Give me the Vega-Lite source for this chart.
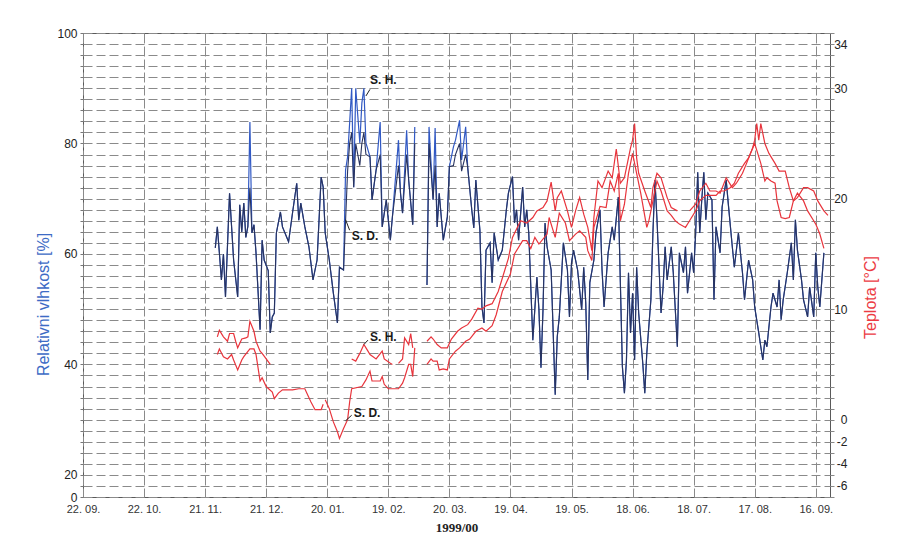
{
  "$schema": "https://vega.github.io/schema/vega-lite/v6.json",
  "width": 747,
  "height": 464,
  "autosize": {"type": "none"},
  "padding": {"left": 83, "top": 33, "right": 94, "bottom": 48},
  "background": "white",
  "config": {"view": {"stroke": "#5a5a5a", "strokeWidth": 1}, "font": "Liberation Sans"},
  "datasets": {
    "hum": [
      {"d":"1999-11-26","s":1,"hh":61.1,"hd":61.1},
      {"d":"1999-11-27","s":1,"hh":64.9,"hd":64.9},
      {"d":"1999-11-28","s":1,"hh":60.2,"hd":60.2},
      {"d":"1999-11-29","s":1,"hh":55.3,"hd":55.3},
      {"d":"1999-11-30","s":1,"hh":60.0,"hd":60.0},
      {"d":"1999-12-01","s":1,"hh":52.2,"hd":52.2},
      {"d":"1999-12-03","s":1,"hh":71.0,"hd":71.0},
      {"d":"1999-12-05","s":1,"hh":58.9,"hd":58.9},
      {"d":"1999-12-07","s":1,"hh":52.2,"hd":52.2},
      {"d":"1999-12-08","s":1,"hh":68.9,"hd":68.9},
      {"d":"1999-12-09","s":1,"hh":64.0,"hd":64.0},
      {"d":"1999-12-10","s":1,"hh":69.2,"hd":69.2},
      {"d":"1999-12-11","s":1,"hh":63.0,"hd":63.0},
      {"d":"1999-12-12","s":1,"hh":65.0,"hd":65.0},
      {"d":"1999-12-13","s":1,"hh":83.9,"hd":72.0},
      {"d":"1999-12-14","s":1,"hh":63.8,"hd":63.8},
      {"d":"1999-12-15","s":1,"hh":65.3,"hd":65.3},
      {"d":"1999-12-16","s":1,"hh":60.2,"hd":60.2},
      {"d":"1999-12-18","s":1,"hh":46.3,"hd":46.3},
      {"d":"1999-12-19","s":1,"hh":62.5,"hd":62.5},
      {"d":"1999-12-20","s":1,"hh":58.9,"hd":58.9},
      {"d":"1999-12-22","s":1,"hh":57.0,"hd":57.0},
      {"d":"1999-12-23","s":1,"hh":45.7,"hd":45.7},
      {"d":"1999-12-24","s":1,"hh":48.6,"hd":48.6},
      {"d":"1999-12-25","s":1,"hh":49.3,"hd":49.3},
      {"d":"1999-12-26","s":1,"hh":63.8,"hd":63.8},
      {"d":"1999-12-28","s":1,"hh":67.6,"hd":67.6},
      {"d":"1999-12-29","s":1,"hh":64.9,"hd":64.9},
      {"d":"2000-01-01","s":1,"hh":62.2,"hd":62.2},
      {"d":"2000-01-03","s":1,"hh":67.6,"hd":67.6},
      {"d":"2000-01-05","s":1,"hh":72.8,"hd":72.8},
      {"d":"2000-01-06","s":1,"hh":66.1,"hd":66.1},
      {"d":"2000-01-07","s":1,"hh":69.2,"hd":69.2},
      {"d":"2000-01-09","s":1,"hh":64.9,"hd":64.9},
      {"d":"2000-01-11","s":1,"hh":61.3,"hd":61.3},
      {"d":"2000-01-13","s":1,"hh":55.3,"hd":55.3},
      {"d":"2000-01-15","s":1,"hh":58.9,"hd":58.9},
      {"d":"2000-01-17","s":1,"hh":73.9,"hd":73.9},
      {"d":"2000-01-18","s":1,"hh":72.1,"hd":72.1},
      {"d":"2000-01-19","s":1,"hh":63.8,"hd":63.8},
      {"d":"2000-01-21","s":1,"hh":58.9,"hd":58.9},
      {"d":"2000-01-23","s":1,"hh":52.9,"hd":52.9},
      {"d":"2000-01-25","s":1,"hh":47.5,"hd":47.5},
      {"d":"2000-01-26","s":1,"hh":57.6,"hd":57.6},
      {"d":"2000-01-28","s":1,"hh":57.1,"hd":57.1},
      {"d":"2000-01-29","s":1,"hh":75.2,"hd":66.0},
      {"d":"2000-01-30","s":1,"hh":77.6,"hd":75.0},
      {"d":"2000-01-31","s":1,"hh":83.7,"hd":80.0},
      {"d":"2000-02-01","s":1,"hh":90.0,"hd":82.0},
      {"d":"2000-02-02","s":1,"hh":72.1,"hd":72.1},
      {"d":"2000-02-03","s":1,"hh":90.0,"hd":80.0},
      {"d":"2000-02-05","s":1,"hh":80.1,"hd":76.0},
      {"d":"2000-02-06","s":1,"hh":87.3,"hd":80.0},
      {"d":"2000-02-07","s":1,"hh":90.0,"hd":82.0},
      {"d":"2000-02-08","s":1,"hh":80.1,"hd":78.0},
      {"d":"2000-02-10","s":1,"hh":77.6,"hd":77.6},
      {"d":"2000-02-11","s":1,"hh":69.8,"hd":69.8},
      {"d":"2000-02-13","s":1,"hh":75.2,"hd":75.2},
      {"d":"2000-02-15","s":1,"hh":83.9,"hd":78.0},
      {"d":"2000-02-16","s":1,"hh":64.9,"hd":64.9},
      {"d":"2000-02-18","s":1,"hh":69.8,"hd":69.8},
      {"d":"2000-02-20","s":1,"hh":62.5,"hd":62.5},
      {"d":"2000-02-21","s":1,"hh":66.7,"hd":66.7},
      {"d":"2000-02-24","s":1,"hh":80.6,"hd":76.0},
      {"d":"2000-02-25","s":1,"hh":71.0,"hd":71.0},
      {"d":"2000-02-26","s":1,"hh":67.4,"hd":67.4},
      {"d":"2000-02-28","s":1,"hh":82.4,"hd":78.0},
      {"d":"2000-02-29","s":1,"hh":73.4,"hd":73.4},
      {"d":"2000-03-02","s":1,"hh":65.3,"hd":65.3},
      {"d":"2000-03-03","s":1,"hh":83.0,"hd":80.0},
      {"d":"2000-03-09","s":2,"hh":54.4,"hd":54.4},
      {"d":"2000-03-10","s":2,"hh":83.0,"hd":80.0},
      {"d":"2000-03-12","s":2,"hh":69.8,"hd":69.8},
      {"d":"2000-03-13","s":2,"hh":82.8,"hd":76.0},
      {"d":"2000-03-14","s":2,"hh":64.9,"hd":64.9},
      {"d":"2000-03-15","s":2,"hh":71.0,"hd":71.0},
      {"d":"2000-03-17","s":2,"hh":62.5,"hd":62.5},
      {"d":"2000-03-19","s":2,"hh":66.7,"hd":66.7},
      {"d":"2000-03-20","s":2,"hh":75.8,"hd":75.8},
      {"d":"2000-03-22","s":2,"hh":79.4,"hd":76.0},
      {"d":"2000-03-23","s":2,"hh":80.6,"hd":78.0},
      {"d":"2000-03-25","s":2,"hh":84.2,"hd":80.0},
      {"d":"2000-03-26","s":2,"hh":77.0,"hd":75.0},
      {"d":"2000-03-28","s":2,"hh":83.0,"hd":78.0},
      {"d":"2000-03-29","s":2,"hh":75.7,"hd":75.7},
      {"d":"2000-03-31","s":2,"hh":68.0,"hd":68.0},
      {"d":"2000-04-01","s":2,"hh":64.7,"hd":64.7},
      {"d":"2000-04-02","s":2,"hh":73.4,"hd":73.4},
      {"d":"2000-04-04","s":2,"hh":64.3,"hd":64.3},
      {"d":"2000-04-05","s":2,"hh":50.4,"hd":50.4},
      {"d":"2000-04-06","s":2,"hh":47.5,"hd":47.5},
      {"d":"2000-04-07","s":2,"hh":60.7,"hd":60.7},
      {"d":"2000-04-09","s":2,"hh":62.0,"hd":62.0},
      {"d":"2000-04-10","s":2,"hh":54.8,"hd":54.8},
      {"d":"2000-04-11","s":2,"hh":63.8,"hd":63.8},
      {"d":"2000-04-13","s":2,"hh":58.9,"hd":58.9},
      {"d":"2000-04-15","s":2,"hh":60.7,"hd":60.7},
      {"d":"2000-04-17","s":2,"hh":68.0,"hd":68.0},
      {"d":"2000-04-18","s":2,"hh":71.0,"hd":71.0},
      {"d":"2000-04-20","s":2,"hh":74.0,"hd":74.0},
      {"d":"2000-04-21","s":2,"hh":65.6,"hd":65.6},
      {"d":"2000-04-22","s":2,"hh":68.0,"hd":68.0},
      {"d":"2000-04-23","s":2,"hh":62.5,"hd":62.5},
      {"d":"2000-04-25","s":2,"hh":72.1,"hd":72.1},
      {"d":"2000-04-26","s":2,"hh":64.9,"hd":64.9},
      {"d":"2000-04-27","s":2,"hh":68.0,"hd":68.0},
      {"d":"2000-04-28","s":2,"hh":63.8,"hd":63.8},
      {"d":"2000-04-30","s":2,"hh":44.4,"hd":44.4},
      {"d":"2000-05-02","s":2,"hh":55.8,"hd":55.8},
      {"d":"2000-05-03","s":2,"hh":49.9,"hd":49.9},
      {"d":"2000-05-04","s":2,"hh":39.4,"hd":39.4},
      {"d":"2000-05-05","s":2,"hh":49.9,"hd":49.9},
      {"d":"2000-05-06","s":2,"hh":65.6,"hd":65.6},
      {"d":"2000-05-07","s":2,"hh":61.3,"hd":61.3},
      {"d":"2000-05-09","s":2,"hh":57.1,"hd":57.1},
      {"d":"2000-05-11","s":2,"hh":34.5,"hd":34.5},
      {"d":"2000-05-12","s":2,"hh":45.0,"hd":45.0},
      {"d":"2000-05-13","s":2,"hh":48.6,"hd":48.6},
      {"d":"2000-05-15","s":2,"hh":62.0,"hd":62.0},
      {"d":"2000-05-17","s":2,"hh":57.1,"hd":57.1},
      {"d":"2000-05-18","s":2,"hh":48.6,"hd":48.6},
      {"d":"2000-05-19","s":2,"hh":58.4,"hd":58.4},
      {"d":"2000-05-20","s":2,"hh":60.7,"hd":60.7},
      {"d":"2000-05-22","s":2,"hh":57.1,"hd":57.1},
      {"d":"2000-05-24","s":2,"hh":49.9,"hd":49.9},
      {"d":"2000-05-25","s":2,"hh":57.6,"hd":57.6},
      {"d":"2000-05-26","s":2,"hh":51.1,"hd":51.1},
      {"d":"2000-05-27","s":2,"hh":37.2,"hd":37.2},
      {"d":"2000-05-28","s":2,"hh":54.8,"hd":54.8},
      {"d":"2000-05-30","s":2,"hh":58.9,"hd":58.9},
      {"d":"2000-05-31","s":2,"hh":63.8,"hd":63.8},
      {"d":"2000-06-02","s":2,"hh":68.0,"hd":68.0},
      {"d":"2000-06-03","s":2,"hh":57.1,"hd":57.1},
      {"d":"2000-06-04","s":2,"hh":50.4,"hd":50.4},
      {"d":"2000-06-06","s":2,"hh":60.2,"hd":60.2},
      {"d":"2000-06-08","s":2,"hh":64.9,"hd":64.9},
      {"d":"2000-06-09","s":2,"hh":62.5,"hd":62.5},
      {"d":"2000-06-11","s":2,"hh":70.3,"hd":70.3},
      {"d":"2000-06-12","s":2,"hh":54.8,"hd":54.8},
      {"d":"2000-06-13","s":2,"hh":39.6,"hd":39.6},
      {"d":"2000-06-14","s":2,"hh":34.8,"hd":34.8},
      {"d":"2000-06-15","s":2,"hh":40.8,"hd":40.8},
      {"d":"2000-06-16","s":2,"hh":56.6,"hd":56.6},
      {"d":"2000-06-17","s":2,"hh":45.7,"hd":45.7},
      {"d":"2000-06-18","s":2,"hh":52.9,"hd":52.9},
      {"d":"2000-06-19","s":2,"hh":40.8,"hd":40.8},
      {"d":"2000-06-20","s":2,"hh":57.6,"hd":57.6},
      {"d":"2000-06-21","s":2,"hh":49.3,"hd":49.3},
      {"d":"2000-06-23","s":2,"hh":40.3,"hd":40.3},
      {"d":"2000-06-24","s":2,"hh":34.8,"hd":34.8},
      {"d":"2000-06-25","s":2,"hh":42.1,"hd":42.1},
      {"d":"2000-06-27","s":2,"hh":51.7,"hd":51.7},
      {"d":"2000-06-28","s":2,"hh":63.8,"hd":63.8},
      {"d":"2000-06-29","s":2,"hh":73.4,"hd":73.4},
      {"d":"2000-06-30","s":2,"hh":66.2,"hd":66.2},
      {"d":"2000-07-02","s":2,"hh":49.3,"hd":49.3},
      {"d":"2000-07-03","s":2,"hh":54.0,"hd":54.0},
      {"d":"2000-07-04","s":2,"hh":61.3,"hd":61.3},
      {"d":"2000-07-05","s":2,"hh":55.3,"hd":55.3},
      {"d":"2000-07-07","s":2,"hh":61.3,"hd":61.3},
      {"d":"2000-07-08","s":2,"hh":56.6,"hd":56.6},
      {"d":"2000-07-10","s":2,"hh":43.2,"hd":43.2},
      {"d":"2000-07-11","s":2,"hh":60.2,"hd":60.2},
      {"d":"2000-07-13","s":2,"hh":56.6,"hd":56.6},
      {"d":"2000-07-14","s":2,"hh":61.3,"hd":61.3},
      {"d":"2000-07-15","s":2,"hh":52.9,"hd":52.9},
      {"d":"2000-07-17","s":2,"hh":60.2,"hd":60.2},
      {"d":"2000-07-18","s":2,"hh":56.6,"hd":56.6},
      {"d":"2000-07-19","s":2,"hh":63.8,"hd":63.8},
      {"d":"2000-07-20","s":2,"hh":74.8,"hd":74.8},
      {"d":"2000-07-21","s":2,"hh":63.8,"hd":63.8},
      {"d":"2000-07-22","s":2,"hh":69.8,"hd":69.8},
      {"d":"2000-07-23","s":2,"hh":74.8,"hd":74.8},
      {"d":"2000-07-24","s":2,"hh":66.2,"hd":66.2},
      {"d":"2000-07-25","s":2,"hh":71.0,"hd":71.0},
      {"d":"2000-07-27","s":2,"hh":69.8,"hd":69.8},
      {"d":"2000-07-28","s":2,"hh":51.7,"hd":51.7},
      {"d":"2000-07-29","s":2,"hh":64.9,"hd":64.9},
      {"d":"2000-07-31","s":2,"hh":60.2,"hd":60.2},
      {"d":"2000-08-01","s":2,"hh":68.5,"hd":68.5},
      {"d":"2000-08-03","s":2,"hh":73.4,"hd":73.4},
      {"d":"2000-08-04","s":2,"hh":69.2,"hd":69.2},
      {"d":"2000-08-06","s":2,"hh":61.3,"hd":61.3},
      {"d":"2000-08-07","s":2,"hh":57.6,"hd":57.6},
      {"d":"2000-08-09","s":2,"hh":63.8,"hd":63.8},
      {"d":"2000-08-11","s":2,"hh":56.6,"hd":56.6},
      {"d":"2000-08-12","s":2,"hh":51.7,"hd":51.7},
      {"d":"2000-08-14","s":2,"hh":58.9,"hd":58.9},
      {"d":"2000-08-16","s":2,"hh":55.3,"hd":55.3},
      {"d":"2000-08-17","s":2,"hh":50.4,"hd":50.4},
      {"d":"2000-08-19","s":2,"hh":45.7,"hd":45.7},
      {"d":"2000-08-20","s":2,"hh":43.2,"hd":43.2},
      {"d":"2000-08-21","s":2,"hh":40.8,"hd":40.8},
      {"d":"2000-08-22","s":2,"hh":44.4,"hd":44.4},
      {"d":"2000-08-23","s":2,"hh":43.2,"hd":43.2},
      {"d":"2000-08-25","s":2,"hh":50.4,"hd":50.4},
      {"d":"2000-08-26","s":2,"hh":52.9,"hd":52.9},
      {"d":"2000-08-28","s":2,"hh":50.4,"hd":50.4},
      {"d":"2000-08-29","s":2,"hh":55.3,"hd":55.3},
      {"d":"2000-08-30","s":2,"hh":48.1,"hd":48.1},
      {"d":"2000-08-31","s":2,"hh":51.7,"hd":51.7},
      {"d":"2000-09-02","s":2,"hh":56.6,"hd":56.6},
      {"d":"2000-09-04","s":2,"hh":62.0,"hd":62.0},
      {"d":"2000-09-05","s":2,"hh":55.3,"hd":55.3},
      {"d":"2000-09-06","s":2,"hh":66.2,"hd":66.2},
      {"d":"2000-09-07","s":2,"hh":60.7,"hd":60.7},
      {"d":"2000-09-09","s":2,"hh":55.3,"hd":55.3},
      {"d":"2000-09-10","s":2,"hh":51.7,"hd":51.7},
      {"d":"2000-09-12","s":2,"hh":48.6,"hd":48.6},
      {"d":"2000-09-13","s":2,"hh":54.0,"hd":54.0},
      {"d":"2000-09-15","s":2,"hh":48.6,"hd":48.6},
      {"d":"2000-09-16","s":2,"hh":60.2,"hd":60.2},
      {"d":"2000-09-17","s":2,"hh":54.0,"hd":54.0},
      {"d":"2000-09-18","s":2,"hh":50.4,"hd":50.4},
      {"d":"2000-09-19","s":2,"hh":55.3,"hd":55.3},
      {"d":"2000-09-20","s":2,"hh":60.2,"hd":60.2}
    ],
    "temp": [
      {"d":"1999-11-27","k":"H1","t":7.5},{"d":"1999-11-28","k":"H1","t":8.1},{"d":"1999-11-30","k":"H1","t":7.5},
      {"d":"1999-12-02","k":"H1","t":7.1},{"d":"1999-12-03","k":"H1","t":7.8},{"d":"1999-12-05","k":"H1","t":7.8},
      {"d":"1999-12-06","k":"H1","t":7.1},{"d":"1999-12-07","k":"H1","t":6.5},{"d":"1999-12-09","k":"H1","t":7.3},
      {"d":"1999-12-11","k":"H1","t":7.4},{"d":"1999-12-12","k":"H1","t":7.5},{"d":"1999-12-13","k":"H1","t":8.9},
      {"d":"1999-12-15","k":"H1","t":8.0},{"d":"1999-12-16","k":"H1","t":7.1},{"d":"1999-12-18","k":"H1","t":6.2},
      {"d":"1999-12-19","k":"H1","t":6.0},{"d":"1999-12-21","k":"H1","t":5.5},{"d":"1999-12-23","k":"H1","t":5.0},
      {"d":"2000-02-01","k":"H2","t":5.5},{"d":"2000-02-03","k":"H2","t":5.3},{"d":"2000-02-05","k":"H2","t":6.0},
      {"d":"2000-02-07","k":"H2","t":6.8},{"d":"2000-02-09","k":"H2","t":6.2},{"d":"2000-02-10","k":"H2","t":5.9},
      {"d":"2000-02-13","k":"H2","t":5.5},{"d":"2000-02-16","k":"H2","t":6.2},{"d":"2000-02-17","k":"H2","t":5.5},
      {"d":"2000-02-20","k":"H2","t":5.1},{"d":"2000-02-21","k":"H2","t":5.0},
      {"d":"2000-02-24","k":"H3","t":5.1},{"d":"2000-02-26","k":"H3","t":5.5},{"d":"2000-02-27","k":"H3","t":7.4},
      {"d":"2000-02-29","k":"H3","t":6.8},{"d":"2000-03-01","k":"H3","t":7.8},{"d":"2000-03-02","k":"H3","t":6.5},
      {"d":"2000-03-09","k":"H4","t":7.1},{"d":"2000-03-11","k":"H4","t":7.5},{"d":"2000-03-12","k":"H4","t":7.3},
      {"d":"2000-03-14","k":"H4","t":6.8},{"d":"2000-03-16","k":"H4","t":6.5},{"d":"2000-03-19","k":"H4","t":6.5},
      {"d":"2000-03-21","k":"H4","t":7.3},{"d":"2000-03-24","k":"H4","t":8.0},{"d":"2000-03-26","k":"H4","t":8.3},
      {"d":"2000-03-29","k":"H4","t":8.6},{"d":"2000-03-31","k":"H4","t":9.1},{"d":"2000-04-03","k":"H4","t":10.1},
      {"d":"2000-04-05","k":"H4","t":10.0},{"d":"2000-04-07","k":"H4","t":10.3},{"d":"2000-04-10","k":"H4","t":10.5},
      {"d":"2000-04-13","k":"H4","t":11.6},{"d":"2000-04-15","k":"H4","t":12.8},{"d":"2000-04-18","k":"H4","t":14.6},
      {"d":"2000-04-20","k":"H4","t":16.5},{"d":"2000-04-24","k":"H4","t":18.0},{"d":"2000-04-27","k":"H4","t":17.8},
      {"d":"2000-04-30","k":"H4","t":18.3},{"d":"2000-05-02","k":"H4","t":18.9},{"d":"2000-05-05","k":"H4","t":19.2},
      {"d":"2000-05-07","k":"H4","t":19.8},{"d":"2000-05-09","k":"H4","t":21.5},{"d":"2000-05-11","k":"H4","t":18.9},
      {"d":"2000-05-12","k":"H4","t":20.1},{"d":"2000-05-14","k":"H4","t":20.7},{"d":"2000-05-17","k":"H4","t":18.9},
      {"d":"2000-05-19","k":"H4","t":17.4},{"d":"2000-05-21","k":"H4","t":18.9},{"d":"2000-05-23","k":"H4","t":20.1},
      {"d":"2000-05-25","k":"H4","t":18.6},{"d":"2000-05-27","k":"H4","t":17.4},{"d":"2000-05-29","k":"H4","t":15.3},
      {"d":"2000-05-30","k":"H4","t":18.3},{"d":"2000-06-01","k":"H4","t":21.6},{"d":"2000-06-03","k":"H4","t":21.0},
      {"d":"2000-06-06","k":"H4","t":22.5},{"d":"2000-06-08","k":"H4","t":21.9},{"d":"2000-06-10","k":"H4","t":24.5},
      {"d":"2000-06-12","k":"H4","t":21.4},{"d":"2000-06-14","k":"H4","t":21.9},{"d":"2000-06-17","k":"H4","t":24.6},
      {"d":"2000-06-18","k":"H4","t":25.3},{"d":"2000-06-19","k":"H4","t":26.8},{"d":"2000-06-20","k":"H4","t":23.7},
      {"d":"2000-06-21","k":"H4","t":22.3},{"d":"2000-06-24","k":"H4","t":20.7},{"d":"2000-06-27","k":"H4","t":19.2},
      {"d":"2000-06-28","k":"H4","t":21.0},{"d":"2000-06-30","k":"H4","t":22.3},{"d":"2000-07-02","k":"H4","t":21.9},
      {"d":"2000-07-05","k":"H4","t":20.1},{"d":"2000-07-07","k":"H4","t":19.2},{"d":"2000-07-10","k":"H4","t":18.9},
      {"d":"2000-07-16","k":"H5","t":18.9},{"d":"2000-07-19","k":"H5","t":19.5},{"d":"2000-07-21","k":"H5","t":20.7},
      {"d":"2000-07-24","k":"H5","t":21.4},{"d":"2000-07-26","k":"H5","t":20.7},{"d":"2000-07-29","k":"H5","t":20.7},
      {"d":"2000-07-31","k":"H5","t":20.5},{"d":"2000-08-03","k":"H5","t":21.9},{"d":"2000-08-06","k":"H5","t":21.0},
      {"d":"2000-08-08","k":"H5","t":21.4},{"d":"2000-08-11","k":"H5","t":22.3},{"d":"2000-08-13","k":"H5","t":23.2},
      {"d":"2000-08-16","k":"H5","t":24.6},{"d":"2000-08-17","k":"H5","t":25.3},{"d":"2000-08-18","k":"H5","t":26.8},
      {"d":"2000-08-19","k":"H5","t":25.3},{"d":"2000-08-20","k":"H5","t":26.8},{"d":"2000-08-22","k":"H5","t":25.0},
      {"d":"2000-08-24","k":"H5","t":24.1},{"d":"2000-08-27","k":"H5","t":23.2},{"d":"2000-08-29","k":"H5","t":22.5},
      {"d":"2000-09-01","k":"H5","t":22.5},{"d":"2000-09-03","k":"H5","t":21.0},{"d":"2000-09-05","k":"H5","t":19.8},
      {"d":"2000-09-07","k":"H5","t":20.1},{"d":"2000-09-10","k":"H5","t":21.0},{"d":"2000-09-12","k":"H5","t":21.0},
      {"d":"2000-09-15","k":"H5","t":20.7},{"d":"2000-09-17","k":"H5","t":19.8},{"d":"2000-09-20","k":"H5","t":18.9},
      {"d":"2000-09-22","k":"H5","t":18.5},
      {"d":"1999-11-27","k":"D1","t":5.9},{"d":"1999-11-28","k":"D1","t":6.4},{"d":"1999-11-30","k":"D1","t":5.7},
      {"d":"1999-12-02","k":"D1","t":5.5},{"d":"1999-12-04","k":"D1","t":5.9},{"d":"1999-12-05","k":"D1","t":5.4},
      {"d":"1999-12-07","k":"D1","t":4.5},{"d":"1999-12-09","k":"D1","t":5.4},{"d":"1999-12-10","k":"D1","t":5.7},
      {"d":"1999-12-13","k":"D1","t":6.4},{"d":"1999-12-15","k":"D1","t":6.4},{"d":"1999-12-16","k":"D1","t":5.9},
      {"d":"1999-12-18","k":"D1","t":3.5},{"d":"1999-12-19","k":"D1","t":3.8},{"d":"1999-12-21","k":"D1","t":3.0},
      {"d":"1999-12-24","k":"D1","t":2.5},{"d":"1999-12-25","k":"D1","t":1.9},{"d":"1999-12-27","k":"D1","t":2.4},
      {"d":"1999-12-29","k":"D1","t":2.7},{"d":"2000-01-03","k":"D1","t":2.7},{"d":"2000-01-06","k":"D1","t":2.8},
      {"d":"2000-01-09","k":"D1","t":2.8},{"d":"2000-01-10","k":"D1","t":2.4},{"d":"2000-01-12","k":"D1","t":1.6},
      {"d":"2000-01-14","k":"D1","t":0.9},{"d":"2000-01-17","k":"D1","t":0.9},{"d":"2000-01-18","k":"D1","t":1.4},
      {"d":"2000-01-19","k":"D2","t":1.8},{"d":"2000-01-21","k":"D2","t":1.0},{"d":"2000-01-23","k":"D2","t":-0.2},
      {"d":"2000-01-25","k":"D2","t":-1.1},{"d":"2000-01-26","k":"D2","t":-1.7},{"d":"2000-01-28","k":"D2","t":-0.8},
      {"d":"2000-01-30","k":"D2","t":0.0},{"d":"2000-01-31","k":"D2","t":1.6},{"d":"2000-02-01","k":"D2","t":2.8},
      {"d":"2000-02-06","k":"D2","t":3.0},{"d":"2000-02-08","k":"D2","t":3.6},{"d":"2000-02-10","k":"D2","t":4.4},
      {"d":"2000-02-11","k":"D2","t":3.5},{"d":"2000-02-15","k":"D2","t":3.5},{"d":"2000-02-16","k":"D2","t":3.9},
      {"d":"2000-02-17","k":"D2","t":3.2},{"d":"2000-02-19","k":"D2","t":2.8},{"d":"2000-02-24","k":"D2","t":2.8},
      {"d":"2000-02-26","k":"D2","t":3.3},{"d":"2000-02-27","k":"D2","t":3.8},{"d":"2000-02-29","k":"D2","t":5.0},
      {"d":"2000-03-01","k":"D2","t":5.0},{"d":"2000-03-02","k":"D2","t":3.9},{"d":"2000-03-03","k":"D2","t":6.5},
      {"d":"2000-03-09","k":"D3","t":5.0},{"d":"2000-03-11","k":"D3","t":5.5},{"d":"2000-03-12","k":"D3","t":5.3},
      {"d":"2000-03-14","k":"D3","t":5.3},{"d":"2000-03-15","k":"D3","t":4.5},{"d":"2000-03-17","k":"D3","t":4.6},
      {"d":"2000-03-19","k":"D3","t":4.5},{"d":"2000-03-20","k":"D3","t":5.5},{"d":"2000-03-23","k":"D3","t":6.2},
      {"d":"2000-03-25","k":"D3","t":6.5},{"d":"2000-03-28","k":"D3","t":7.1},{"d":"2000-03-30","k":"D3","t":7.3},
      {"d":"2000-04-02","k":"D3","t":8.0},{"d":"2000-04-05","k":"D3","t":8.3},{"d":"2000-04-07","k":"D3","t":8.0},
      {"d":"2000-04-10","k":"D3","t":8.5},{"d":"2000-04-12","k":"D3","t":9.5},{"d":"2000-04-15","k":"D3","t":11.6},
      {"d":"2000-04-19","k":"D3","t":13.2},{"d":"2000-04-21","k":"D3","t":15.0},{"d":"2000-04-25","k":"D3","t":16.2},
      {"d":"2000-04-27","k":"D3","t":16.2},{"d":"2000-04-29","k":"D3","t":15.5},{"d":"2000-05-01","k":"D3","t":16.5},
      {"d":"2000-05-03","k":"D3","t":15.9},{"d":"2000-05-07","k":"D3","t":16.8},{"d":"2000-05-08","k":"D3","t":18.3},
      {"d":"2000-05-11","k":"D3","t":16.5},{"d":"2000-05-13","k":"D3","t":18.7},{"d":"2000-05-16","k":"D3","t":17.8},
      {"d":"2000-05-18","k":"D3","t":16.2},{"d":"2000-05-21","k":"D3","t":16.8},{"d":"2000-05-23","k":"D3","t":17.1},
      {"d":"2000-05-26","k":"D3","t":16.5},{"d":"2000-05-27","k":"D3","t":15.3},{"d":"2000-05-29","k":"D3","t":14.4},
      {"d":"2000-05-30","k":"D3","t":17.4},{"d":"2000-06-02","k":"D3","t":19.3},{"d":"2000-06-05","k":"D3","t":19.2},
      {"d":"2000-06-07","k":"D3","t":21.6},{"d":"2000-06-09","k":"D3","t":20.7},{"d":"2000-06-11","k":"D3","t":22.3},
      {"d":"2000-06-12","k":"D3","t":18.0},{"d":"2000-06-14","k":"D3","t":19.5},{"d":"2000-06-16","k":"D3","t":22.3},
      {"d":"2000-06-18","k":"D3","t":24.1},{"d":"2000-06-20","k":"D3","t":22.3},{"d":"2000-06-22","k":"D3","t":20.5},
      {"d":"2000-06-25","k":"D3","t":17.4},{"d":"2000-06-26","k":"D3","t":18.0},{"d":"2000-06-28","k":"D3","t":19.8},
      {"d":"2000-06-30","k":"D3","t":21.6},{"d":"2000-07-02","k":"D3","t":20.7},{"d":"2000-07-05","k":"D3","t":18.9},
      {"d":"2000-07-07","k":"D3","t":18.5},{"d":"2000-07-09","k":"D3","t":18.0},{"d":"2000-07-11","k":"D3","t":17.7},
      {"d":"2000-07-14","k":"D3","t":17.4},{"d":"2000-07-16","k":"D3","t":18.0},{"d":"2000-07-19","k":"D3","t":18.9},
      {"d":"2000-07-21","k":"D3","t":19.8},{"d":"2000-07-24","k":"D3","t":20.3},{"d":"2000-07-26","k":"D3","t":20.3},
      {"d":"2000-07-29","k":"D3","t":20.3},{"d":"2000-07-31","k":"D3","t":20.7},{"d":"2000-08-02","k":"D3","t":20.7},
      {"d":"2000-08-05","k":"D3","t":21.0},{"d":"2000-08-07","k":"D3","t":21.4},{"d":"2000-08-09","k":"D3","t":22.3},
      {"d":"2000-08-12","k":"D3","t":23.2},{"d":"2000-08-14","k":"D3","t":23.7},{"d":"2000-08-17","k":"D3","t":25.0},
      {"d":"2000-08-18","k":"D3","t":24.4},{"d":"2000-08-20","k":"D3","t":23.2},{"d":"2000-08-22","k":"D3","t":21.6},
      {"d":"2000-08-23","k":"D3","t":21.9},{"d":"2000-08-25","k":"D3","t":21.6},{"d":"2000-08-27","k":"D3","t":21.4},
      {"d":"2000-08-28","k":"D3","t":19.8},{"d":"2000-08-30","k":"D3","t":18.3},{"d":"2000-09-01","k":"D3","t":18.2},
      {"d":"2000-09-03","k":"D3","t":18.3},{"d":"2000-09-05","k":"D3","t":19.8},{"d":"2000-09-07","k":"D3","t":20.5},
      {"d":"2000-09-10","k":"D3","t":19.8},{"d":"2000-09-12","k":"D3","t":18.9},{"d":"2000-09-15","k":"D3","t":18.0},
      {"d":"2000-09-16","k":"D3","t":17.7},{"d":"2000-09-18","k":"D3","t":16.8},{"d":"2000-09-20","k":"D3","t":15.5}
    ]
  },
  "layer": [
    {
      "layer": [
        {
          "data": {"name": "hum"},
          "mark": {"type": "line", "color": "#3159c4", "strokeWidth": 1.2},
          "encoding": {
            "x": {
              "field": "d", "type": "temporal",
              "scale": {"type": "utc", "domain": [{"year": 1999, "month": 9, "date": 22, "utc": true}, {"year": 2000, "month": 9, "date": 23, "utc": true}]},
              "axis": {
                "values": [
                  {"year": 1999, "month": 9, "date": 22, "utc": true},
                  {"year": 1999, "month": 10, "date": 22, "utc": true},
                  {"year": 1999, "month": 11, "date": 21, "utc": true},
                  {"year": 1999, "month": 12, "date": 21, "utc": true},
                  {"year": 2000, "month": 1, "date": 20, "utc": true},
                  {"year": 2000, "month": 2, "date": 19, "utc": true},
                  {"year": 2000, "month": 3, "date": 20, "utc": true},
                  {"year": 2000, "month": 4, "date": 19, "utc": true},
                  {"year": 2000, "month": 5, "date": 19, "utc": true},
                  {"year": 2000, "month": 6, "date": 18, "utc": true},
                  {"year": 2000, "month": 7, "date": 18, "utc": true},
                  {"year": 2000, "month": 8, "date": 17, "utc": true},
                  {"year": 2000, "month": 9, "date": 16, "utc": true}
                ],
                "tickCount": 40,
                "format": "%d. %m.",
                "labelFontSize": 11, "labelColor": "#333333", "labelPadding": 6,
                "labelFlush": false, "labelOverlap": false,
                "ticks": false, "domain": false,
                "grid": true, "gridDash": [10, 3], "gridColor": "#8a8a8a", "gridWidth": 1,
                "title": "1999/00", "titleFont": "Liberation Serif", "titleFontSize": 13,
                "titleFontWeight": "bold", "titleColor": "#222222", "titlePadding": 7
              }
            },
            "y": {
              "field": "hh", "type": "quantitative",
              "scale": {"domain": [16, 100], "nice": false, "zero": false},
              "axis": {
                "orient": "left",
                "values": [16,18,20,22,24,26,28,30,32,34,36,38,40,42,44,46,48,50,52,54,56,58,60,62,64,66,68,70,72,74,76,78,80,82,84,86,88,90,92,94,96,98,100],
                "tickCount": 100,
                "labelExpr": "datum.value == 16 ? '0' : ((datum.value == 20 || datum.value == 40 || datum.value == 60 || datum.value == 80 || datum.value == 100) ? datum.label : '')",
                "labelOverlap": false,
                "labelFontSize": 12, "labelColor": "#222222", "labelPadding": 3,
                "tickSize": 3, "tickColor": "#777777", "domain": false,
                "grid": true, "gridDash": [9, 4], "gridColor": "#8a8a8a", "gridWidth": 1,
                "title": "Relativni vlhkost [%]", "titleColor": "#3d6bc5", "titleFontSize": 16,
                "titleFontWeight": "normal", "titleAngle": 270, "titleX": -40, "titleY": 271,
                "titleAlign": "center", "titleBaseline": "middle"
              }
            },
            "detail": {"field": "s"}
          }
        },
        {
          "data": {"name": "hum"},
          "mark": {"type": "line", "color": "#28335f", "strokeWidth": 1.1},
          "encoding": {
            "x": {"field": "d", "type": "temporal"},
            "y": {"field": "hd", "type": "quantitative"},
            "detail": {"field": "s"}
          }
        },
        {
          "data": {"values": [
            {"d": "2000-02-10", "h": 91.5, "txt": "S. H."},
            {"d": "2000-02-01", "h": 63.3, "txt": "S. D."}
          ]},
          "mark": {"type": "text", "align": "left", "baseline": "middle", "fontSize": 12, "fontWeight": "bold", "color": "#1a1a1a"},
          "encoding": {
            "x": {"field": "d", "type": "temporal"},
            "y": {"field": "h", "type": "quantitative"},
            "text": {"field": "txt"}
          }
        },
        {
          "data": {"values": [
            {"d": "2000-02-10", "d2": "2000-02-08", "h": 89.8, "h2": 88.6},
            {"d": "2000-01-29", "d2": "2000-01-31", "h": 66.2, "h2": 64.3}
          ]},
          "mark": {"type": "rule", "color": "#222222", "strokeWidth": 1},
          "encoding": {
            "x": {"field": "d", "type": "temporal"},
            "x2": {"field": "d2"},
            "y": {"field": "h", "type": "quantitative"},
            "y2": {"field": "h2"}
          }
        }
      ]
    },
    {
      "layer": [
        {
          "data": {"name": "temp"},
          "mark": {"type": "line", "color": "#e8343c", "strokeWidth": 1.2},
          "encoding": {
            "x": {"field": "d", "type": "temporal"},
            "y": {
              "field": "t", "type": "quantitative",
              "scale": {"domain": [-7, 35], "nice": false, "zero": false},
              "axis": {
                "orient": "right",
                "values": [-7,-6,-5,-4,-3,-2,-1,0,1,2,3,4,5,6,7,8,9,10,11,12,13,14,15,16,17,18,19,20,21,22,23,24,25,26,27,28,29,30,31,32,33,34,35],
                "tickCount": 100,
                "labelExpr": "indexof([34,30,20,10,0,-2,-4,-6], datum.value) >= 0 ? '' + datum.value : ''",
                "labelOverlap": false,
                "labelFontSize": 12, "labelColor": "#222222", "labelAlign": "right", "labelPadding": 13,
                "tickSize": 4, "tickColor": "#888888", "domain": false, "grid": false,
                "title": "Teplota [°C]", "titleColor": "#ec3b43", "titleFontSize": 16,
                "titleFontWeight": "normal", "titleAngle": 270, "titleX": 40, "titleY": 264,
                "titleAlign": "center", "titleBaseline": "middle"
              }
            },
            "detail": {"field": "k"}
          }
        },
        {
          "data": {"values": [
            {"d": "2000-02-10", "t": 7.45, "txt": "S. H."},
            {"d": "2000-02-02", "t": 0.64, "txt": "S. D."}
          ]},
          "mark": {"type": "text", "align": "left", "baseline": "middle", "fontSize": 12, "fontWeight": "bold", "color": "#1a1a1a"},
          "encoding": {
            "x": {"field": "d", "type": "temporal"},
            "y": {"field": "t", "type": "quantitative"},
            "text": {"field": "txt"}
          }
        },
        {
          "data": {"values": [
            {"d": "2000-02-07", "d2": "2000-02-09", "t": 6.8, "t2": 7.2},
            {"d": "2000-01-29", "d2": "2000-02-01", "t": -0.1, "t2": 0.4}
          ]},
          "mark": {"type": "rule", "color": "#222222", "strokeWidth": 1},
          "encoding": {
            "x": {"field": "d", "type": "temporal"},
            "x2": {"field": "d2"},
            "y": {"field": "t", "type": "quantitative"},
            "y2": {"field": "t2"}
          }
        }
      ]
    }
  ],
  "resolve": {"scale": {"y": "independent"}}
}
